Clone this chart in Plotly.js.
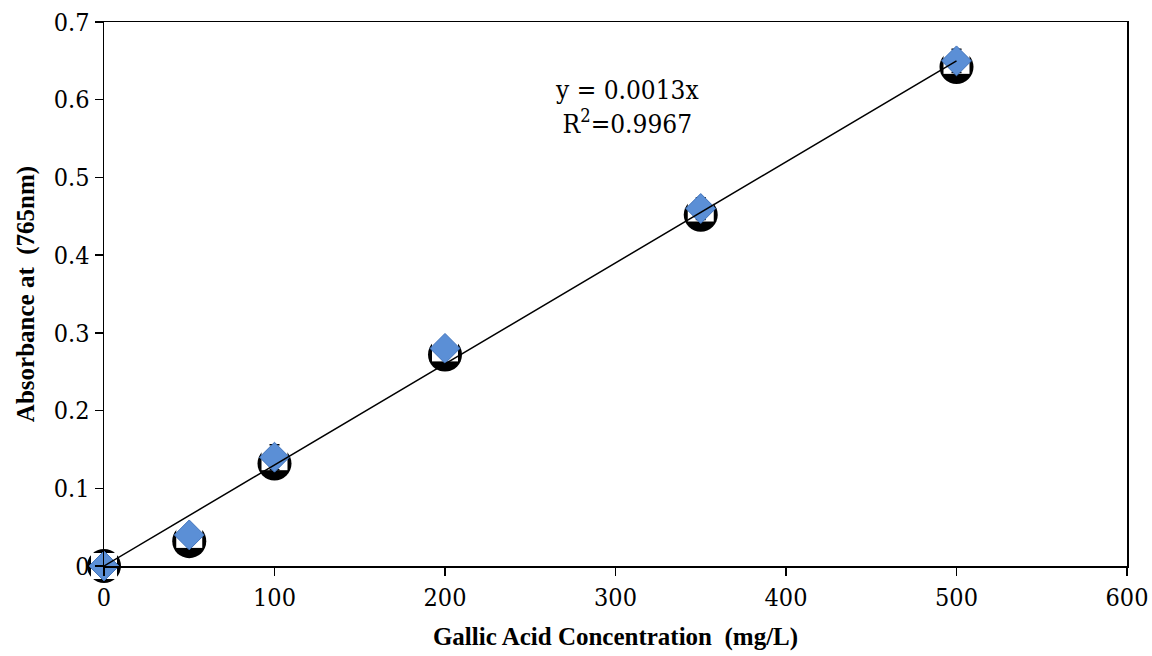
<!DOCTYPE html>
<html>
<head>
<meta charset="utf-8">
<script src="https://cdn.plot.ly/plotly-3.0.1.min.js"></script>
<style>html,body{margin:0;padding:0;background:#fff;}#chart{width:1152px;height:656px;}</style>
</head>
<body>
<div id="chart"></div>
<script>
// Data
const concentration = [0, 50, 100, 200, 350, 500];
const absorbance = [0, 0.04, 0.14, 0.28, 0.46, 0.65];
const absorbanceError = [0.003, 0.004, 0.016, 0.006, 0.014, 0.015];
const replicateAbsorbance = [0, 0.032, 0.132, 0.272, 0.452, 0.642];
const trendX = [0, 500];
const trendY = [0, 0.65];
const xTicks = [0, 100, 200, 300, 400, 500, 600];
const yTicks = [0, 0.1, 0.2, 0.3, 0.4, 0.5, 0.6, 0.7];
const yTickText = ["0", "0.1", "0.2", "0.3", "0.4", "0.5", "0.6", "0.7"];

const serif = "Liberation Serif, Times New Roman, serif";
const numFont = "DejaVu Serif Condensed, DejaVu Serif, serif";

const traces = [
  {
    x: concentration, y: replicateAbsorbance, type: "scatter", mode: "markers",
    marker: {symbol: "circle", size: 34, color: "#000000"},
    cliponaxis: false, showlegend: false, hoverinfo: "skip"
  },
  {
    x: concentration, y: absorbance, type: "scatter", mode: "markers",
    marker: {symbol: "square", size: 26, color: "#ffffff"},
    cliponaxis: false, showlegend: false, hoverinfo: "skip"
  },
  {
    x: concentration, y: absorbance, type: "scatter", mode: "markers",
    marker: {symbol: "diamond", size: 23, color: "#5b8fd6",
      line: {color: "#3f72bb", width: 1}},
    error_y: {type: "data", array: absorbanceError, visible: true, color: "#000000", thickness: 1.5, width: 5},
    cliponaxis: false, showlegend: false
  },
  {
    x: trendX, y: trendY, type: "scatter", mode: "lines",
    line: {color: "#000000", width: 1.5},
    cliponaxis: false, showlegend: false, hoverinfo: "skip"
  }
];

const layout = {
  width: 1152, height: 656,
  margin: {l: 104, r: 25, t: 22, b: 90},
  paper_bgcolor: "#ffffff", plot_bgcolor: "#ffffff",
  showlegend: false,
  xaxis: {
    range: [0, 600], tickvals: xTicks, ticktext: xTicks.map(String),
    showgrid: false, zeroline: false,
    showline: true, mirror: true, linecolor: "#000000", linewidth: 1.5,
    ticks: "outside", ticklen: 8, tickwidth: 1.5, tickcolor: "#000000",
    tickfont: {family: numFont, size: 25, color: "#000000"},
    title: {text: "<b>Gallic Acid Concentration  (mg/L)</b>", font: {family: serif, size: 25, color: "#000000"}, standoff: 17}
  },
  yaxis: {
    range: [0, 0.7], tickvals: yTicks, ticktext: yTickText,
    showgrid: false, zeroline: false,
    showline: true, mirror: true, linecolor: "#000000", linewidth: 1.5,
    ticks: "outside", ticklen: 8, tickwidth: 1.5, tickcolor: "#000000",
    tickfont: {family: numFont, size: 25, color: "#000000"},
    title: {text: "<b>Absorbance at  (765nm)</b>", font: {family: serif, size: 25, color: "#000000"}, standoff: 12}
  },
  annotations: [
    {xref: "paper", yref: "paper", x: (627 - 104) / 1023, y: (566 - 107) / 544,
     text: "y = 0.0013x<br>R<sup>2</sup>=0.9967", showarrow: false, align: "center",
     xanchor: "center", yanchor: "middle",
     font: {family: numFont, size: 26, color: "#000000"}}
  ]
};

Plotly.newPlot("chart", traces, layout, {displayModeBar: false, staticPlot: true});
</script>
</body>
</html>
